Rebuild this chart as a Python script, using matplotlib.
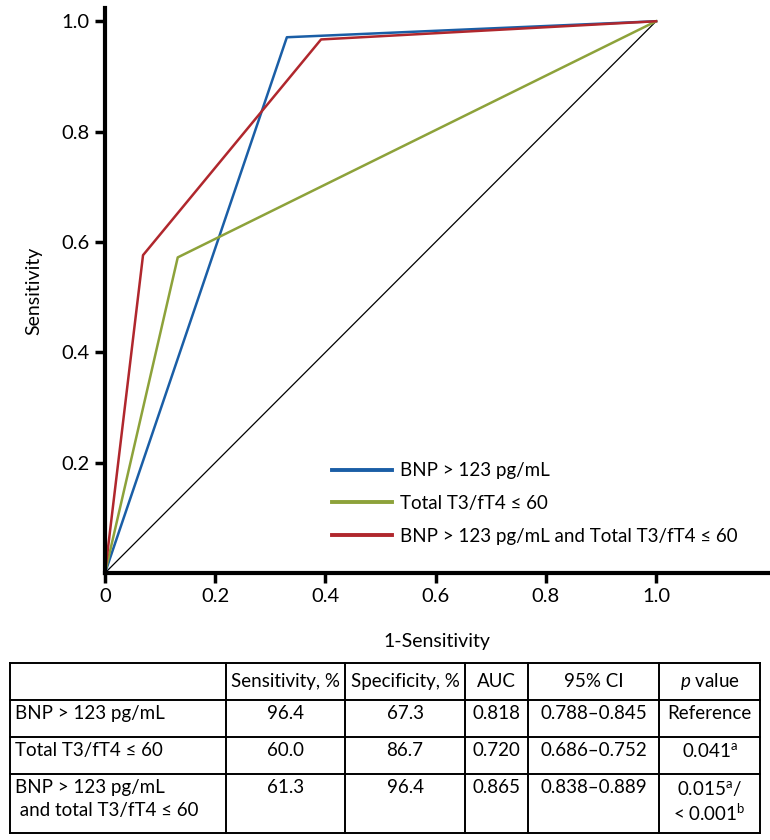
"""ROC curves for BNP and Total T3/fT4 with a summary table underneath."""

import matplotlib

matplotlib.use("Agg")
import matplotlib.pyplot as plt

plt.rcParams["font.family"] = ["Lato", "DejaVu Sans"]
plt.rcParams["mathtext.fontset"] = "custom"
plt.rcParams["mathtext.rm"] = "Lato"
plt.rcParams["mathtext.it"] = "Lato:italic"

# ROC curve points (1-specificity, sensitivity)
bnp_x = [0.0, 0.33, 1.0]
bnp_y = [0.0, 0.971, 1.0]
t3_x = [0.0, 0.132, 1.0]
t3_y = [0.0, 0.572, 1.0]
combo_x = [0.0, 0.069, 0.392, 1.0]
combo_y = [0.0, 0.576, 0.967, 1.0]

labels = ["BNP > 123 pg/mL", "Total T3/fT4 ≤ 60", "BNP > 123 pg/mL and Total T3/fT4 ≤ 60"]
colors = ["#1a5ea6", "#8da23a", "#b0272d"]

x_ticks = [0, 0.2, 0.4, 0.6, 0.8, 1.0]
x_tick_labels = ["0", "0.2", "0.4", "0.6", "0.8", "1.0"]
y_ticks = [0.2, 0.4, 0.6, 0.8, 1.0]
y_tick_labels = ["0.2", "0.4", "0.6", "0.8", "1.0"]

# summary table
table_header = ["", "Sensitivity, %", "Specificity, %", "AUC", "95% CI", "$\\it{p}$ value"]
row_names = ["BNP > 123 pg/mL", "Total T3/fT4 ≤ 60", "BNP > 123 pg/mL\n and total T3/fT4 ≤ 60"]
sensitivity = ["96.4", "60.0", "61.3"]
specificity = ["67.3", "86.7", "96.4"]
auc = ["0.818", "0.720", "0.865"]
ci95 = ["0.788–0.845", "0.686–0.752", "0.838–0.889"]
p_values = ["Reference", "0.041$^{\\mathrm{a}}$", "0.015$^{\\mathrm{a}}$/\n< 0.001$^{\\mathrm{b}}$"]

W, H = 770, 840
fig = plt.figure(figsize=(W / 100, H / 100), dpi=100)

# ---- ROC plot ----
ax = fig.add_axes([105 / W, (H - 573) / H, (768 - 105) / W, (573 - 8) / H])
ax.plot([0, 1], [0, 1], color="black", lw=0.9, clip_on=False)
for xs, ys, c, lab in zip([bnp_x, t3_x, combo_x], [bnp_y, t3_y, combo_y], colors, labels):
    ax.plot(xs, ys, color=c, lw=1.8, label=lab, clip_on=False)

ax.set_xlim(0, 1.203)
ax.set_ylim(0, 1.024)
ax.set_xticks(x_ticks)
ax.set_xticklabels(x_tick_labels)
ax.set_yticks(y_ticks)
ax.set_yticklabels(y_tick_labels)
for side in ["top", "right"]:
    ax.spines[side].set_visible(False)
for side in ["left", "bottom"]:
    ax.spines[side].set_linewidth(3)
ax.tick_params(width=2.5, length=7, labelsize=14.5, direction="out", pad=4)
ax.set_xlabel("1-Sensitivity", fontsize=14, labelpad=20)
ax.set_ylabel("Sensitivity", fontsize=14, labelpad=14)

leg = ax.legend(loc="lower left", bbox_to_anchor=(0.342, 0.05), frameon=False,
                fontsize=13.5, handlelength=3.2, handletextpad=0.45, labelspacing=0.84,
                borderpad=0, borderaxespad=0)
for line in leg.get_lines():
    line.set_linewidth(2.8)

# ---- table ----
tx0, ty0, tw, th = 10, 663, 750, 170
tab = fig.add_axes([tx0 / W, (H - ty0 - th) / H, tw / W, th / H])
tab.set_xlim(0, tw)
tab.set_ylim(th, 0)
tab.axis("off")
col_edges = [0, 216, 335, 455, 518, 649, 750]
row_edges = [0, 37, 74, 111, 170]
for xe in col_edges:
    tab.plot([xe, xe], [0, th], color="black", lw=1.4, clip_on=False)
for ye in row_edges:
    tab.plot([0, tw], [ye, ye], color="black", lw=1.4, clip_on=False)

fs = 13.5
for j, txt in enumerate(table_header):
    cx = (col_edges[j] + col_edges[j + 1]) / 2
    tab.text(cx, 18.5, txt, ha="center", va="center", fontsize=fs)

columns = [sensitivity, specificity, auc, ci95, p_values]
for i in range(len(row_names)):
    top = row_edges[i + 1]
    tab.text(5, top + 5, row_names[i], ha="left", va="top", fontsize=fs, linespacing=1.4)
    for j, col in enumerate(columns):
        cx = (col_edges[j + 1] + col_edges[j + 2]) / 2
        tab.text(cx, top + 5, col[i], ha="center", va="top", fontsize=fs, linespacing=1.25)

fig.savefig("out.png", dpi=100)
